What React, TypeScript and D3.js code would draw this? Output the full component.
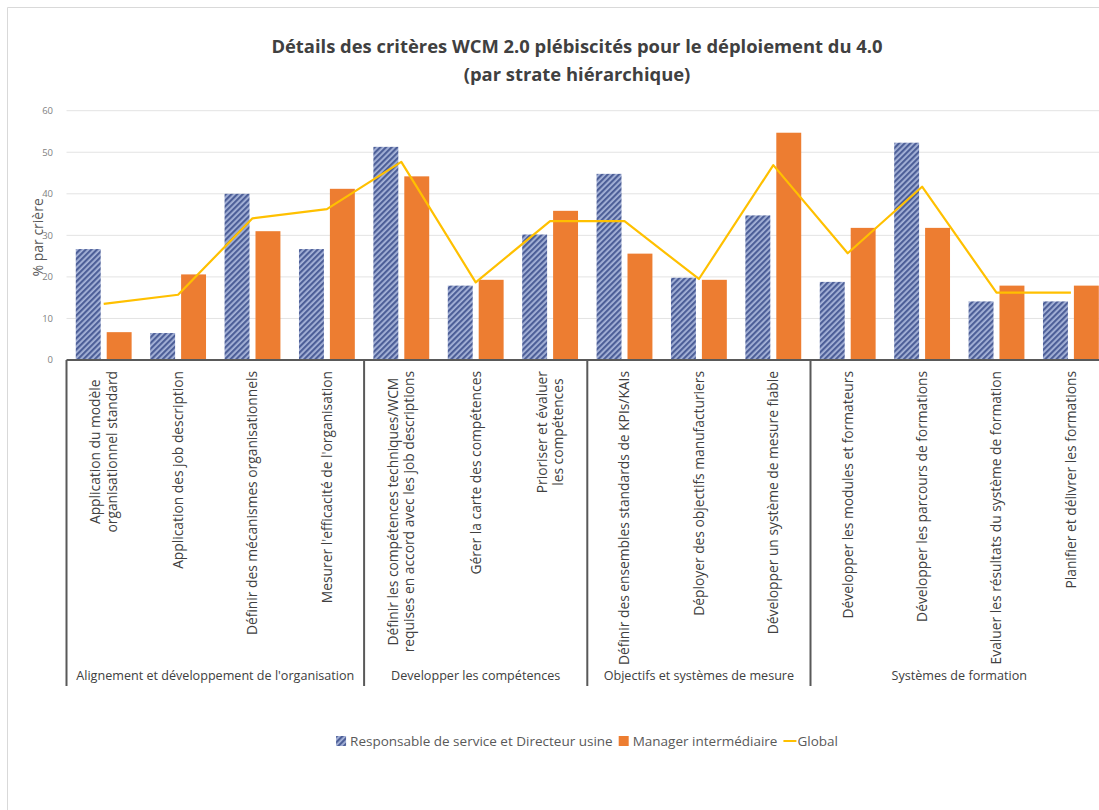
import React, { useEffect, useRef } from "react";
import * as d3 from "d3";

const titleLines = [
  "Détails des critères WCM 2.0 plébiscités pour le déploiement du 4.0",
  "(par strate hiérarchique)",
];
const yLabel = "% par crière";
const yTicks = [0, 10, 20, 30, 40, 50, 60];

const categories = [
  "Application du modèle\norganisationnel standard",
  "Application des job description",
  "Définir des mécanismes organisationnels",
  "Mesurer l'efficacité de l'organisation",
  "Définir les compétences techniques/WCM\nrequises en accord avec les job descriptions",
  "Gérer la carte des compétences",
  "Prioriser et évaluer\nles compétences",
  "Définir des ensembles standards de KPIs/KAIs",
  "Déployer des objectifs manufacturiers",
  "Développer un système de mesure fiable",
  "Développer les modules et formateurs",
  "Développer les parcours de formations",
  "Evaluer les résultats du système de formation",
  "Planifier et délivrer les formations",
];
const groupNames = [
  "Alignement et développement de l'organisation",
  "Developper les compétences",
  "Objectifs et systèmes de mesure",
  "Systèmes de formation",
];
const groupSizes = [4, 3, 3, 4];

const seriesNames = [
  "Responsable de service et Directeur usine",
  "Manager intermédiaire",
  "Global",
];
const responsable = [26.7, 6.5, 40, 26.7, 51.3, 17.9, 30.2, 44.8, 19.8, 34.8, 18.8, 52.3, 14.1, 14.1];
const manager = [6.7, 20.6, 31, 41.2, 44.2, 19.3, 35.9, 25.6, 19.3, 54.7, 31.8, 31.8, 17.9, 17.9];
const globalVals = [13.5, 15.7, 34.1, 36.3, 47.7, 18.7, 33.4, 33.4, 19.5, 46.9, 25.7, 41.7, 16.2, 16.2];

const FONT = "'Open Sans', 'Noto Sans', sans-serif";
const W = 1099;
const H = 810;

export default function App() {
  const ref = useRef<SVGSVGElement | null>(null);

  useEffect(() => {
    const svg = d3.select(ref.current);
    svg.selectAll("*").remove();

    const left = 66.5;
    const bw = 74.4;
    const top = 110.7;
    const bottom = 360;

    const defs = svg.append("defs");
    const pat = defs
      .append("pattern")
      .attr("id", "hatch")
      .attr("patternUnits", "userSpaceOnUse")
      .attr("width", 4)
      .attr("height", 4)
      .attr("patternTransform", "rotate(-45)");
    pat.append("rect").attr("width", 4).attr("height", 4).attr("fill", "#a8b5da");
    pat.append("rect").attr("width", 4).attr("height", 2.2).attr("fill", "#4d5f98");

    svg
      .append("path")
      .attr("d", `M7.5,${H} L7.5,7.5 L${W},7.5`)
      .attr("fill", "none")
      .attr("stroke", "#d9d9d9")
      .attr("stroke-width", 1);

    const idx = categories.map((_, i) => String(i));
    const x = d3
      .scaleBand<string>()
      .domain(idx)
      .range([left, left + bw * categories.length])
      .padding(0);
    const inner = d3
      .scaleBand<string>()
      .domain(["r", "m"])
      .range([0, x.bandwidth()])
      .paddingInner(0.194)
      .paddingOuter(0.3);
    const y = d3.scaleLinear().domain([0, 60]).range([bottom, top]);

    svg
      .append("g")
      .selectAll("line")
      .data(yTicks.filter((t) => t > 0))
      .join("line")
      .attr("x1", left)
      .attr("x2", W)
      .attr("y1", (d) => y(d))
      .attr("y2", (d) => y(d))
      .attr("stroke", "#e3e3e3")
      .attr("stroke-width", 1);

    svg
      .append("g")
      .selectAll("text")
      .data(yTicks)
      .join("text")
      .attr("x", 53)
      .attr("y", (d) => y(d))
      .attr("dy", "0.35em")
      .attr("text-anchor", "end")
      .attr("font-family", FONT)
      .attr("font-size", 9.5)
      .attr("fill", "#7f7f7f")
      .text((d) => d);

    svg
      .append("text")
      .attr("transform", `translate(38,${(top + bottom) / 2 + 2}) rotate(-90)`)
      .attr("text-anchor", "middle")
      .attr("dy", "0.35em")
      .attr("font-family", FONT)
      .attr("font-size", 14)
      .attr("fill", "#595959")
      .text(yLabel);

    const bars = svg.append("g");
    bars
      .selectAll("rect.r")
      .data(responsable)
      .join("rect")
      .attr("class", "r")
      .attr("x", (_, i) => (x(String(i)) as number) + (inner("r") as number))
      .attr("width", inner.bandwidth())
      .attr("y", (d) => y(d))
      .attr("height", (d) => bottom - y(d))
      .attr("fill", "url(#hatch)");
    bars
      .selectAll("rect.m")
      .data(manager)
      .join("rect")
      .attr("class", "m")
      .attr("x", (_, i) => (x(String(i)) as number) + (inner("m") as number))
      .attr("width", inner.bandwidth())
      .attr("y", (d) => y(d))
      .attr("height", (d) => bottom - y(d))
      .attr("fill", "#ed7d31");

    const line = d3
      .line<number>()
      .x((_, i) => (x(String(i)) as number) + x.bandwidth() / 2)
      .y((d) => y(d));
    svg
      .append("path")
      .datum(globalVals)
      .attr("d", line)
      .attr("fill", "none")
      .attr("stroke", "#ffc000")
      .attr("stroke-width", 2.2)
      .attr("stroke-linejoin", "round");

    svg
      .append("line")
      .attr("x1", left)
      .attr("x2", W)
      .attr("y1", bottom)
      .attr("y2", bottom)
      .attr("stroke", "#595959")
      .attr("stroke-width", 2);

    const divBottom = 686;
    let acc = 0;
    const bounds: number[] = [0];
    groupSizes.forEach((s) => {
      acc += s;
      bounds.push(acc);
    });
    svg
      .append("g")
      .selectAll("line")
      .data(bounds)
      .join("line")
      .attr("x1", (d) => left + d * x.step())
      .attr("x2", (d) => left + d * x.step())
      .attr("y1", bottom)
      .attr("y2", divBottom)
      .attr("stroke", "#595959")
      .attr("stroke-width", 2);

    svg
      .append("g")
      .selectAll("text")
      .data(groupNames)
      .join("text")
      .attr("x", (_, i) => left + ((bounds[i] + bounds[i + 1]) / 2) * x.step())
      .attr("y", 676)
      .attr("dy", "0.35em")
      .attr("text-anchor", "middle")
      .attr("font-family", FONT)
      .attr("font-size", 12.6)
      .attr("fill", "#404040")
      .text((d) => d);

    const labelTop = 371;
    const lh = 16.5;
    categories.forEach((c, i) => {
      const lines = c.split("\n");
      const cx = (x(String(i)) as number) + x.bandwidth() / 2;
      const g = svg.append("g").attr("transform", `translate(${cx},${labelTop}) rotate(-90)`);
      const texts = lines.map((l, j) =>
        g
          .append("text")
          .attr("y", (j - (lines.length - 1) / 2) * lh)
          .attr("dy", "0.35em")
          .attr("text-anchor", "middle")
          .attr("font-family", FONT)
          .attr("font-size", 13.8)
          .attr("fill", "#404040")
          .text(l)
      );
      const maxLen = d3.max(texts, (t) => (t.node() as SVGTextElement).getComputedTextLength()) || 0;
      texts.forEach((t) => t.attr("x", -maxLen / 2));
    });

    svg
      .append("g")
      .selectAll("text")
      .data(titleLines)
      .join("text")
      .attr("x", 577)
      .attr("y", (_, i) => 47 + i * 28)
      .attr("dy", "0.35em")
      .attr("text-anchor", "middle")
      .attr("font-family", FONT)
      .attr("font-weight", "bold")
      .attr("font-size", 18.4)
      .attr("fill", "#404040")
      .text((d) => d);

    const leg = svg.append("g");
    const ly = 741;
    const items: { w: number; g: any }[] = [];
    seriesNames.forEach((n, i) => {
      const g = leg.append("g");
      if (i === 0) {
        g.append("rect").attr("x", 0).attr("y", ly - 5).attr("width", 10).attr("height", 10).attr("fill", "url(#hatch)");
      } else if (i === 1) {
        g.append("rect").attr("x", 0).attr("y", ly - 5).attr("width", 10).attr("height", 10).attr("fill", "#ed7d31");
      } else {
        g.append("line").attr("x1", 0).attr("x2", 13).attr("y1", ly).attr("y2", ly).attr("stroke", "#ffc000").attr("stroke-width", 2);
      }
      const t = g
        .append("text")
        .attr("x", 14)
        .attr("y", ly)
        .attr("dy", "0.35em")
        .attr("font-family", FONT)
        .attr("font-size", 13.5)
        .attr("fill", "#595959")
        .text(n);
      const w = 14 + (t.node() as SVGTextElement).getComputedTextLength();
      items.push({ w, g });
    });
    const gap = 6;
    const total = d3.sum(items, (d) => d.w) + gap * (items.length - 1);
    let cur = 587 - total / 2;
    items.forEach((it) => {
      it.g.attr("transform", `translate(${cur},0)`);
      cur += it.w + gap;
    });
  }, []);

  return (
    <svg
      ref={ref}
      width={W}
      height={H}
      style={{ position: "absolute", left: 0, top: 0, background: "#fff", overflow: "hidden" }}
    />
  );
}
